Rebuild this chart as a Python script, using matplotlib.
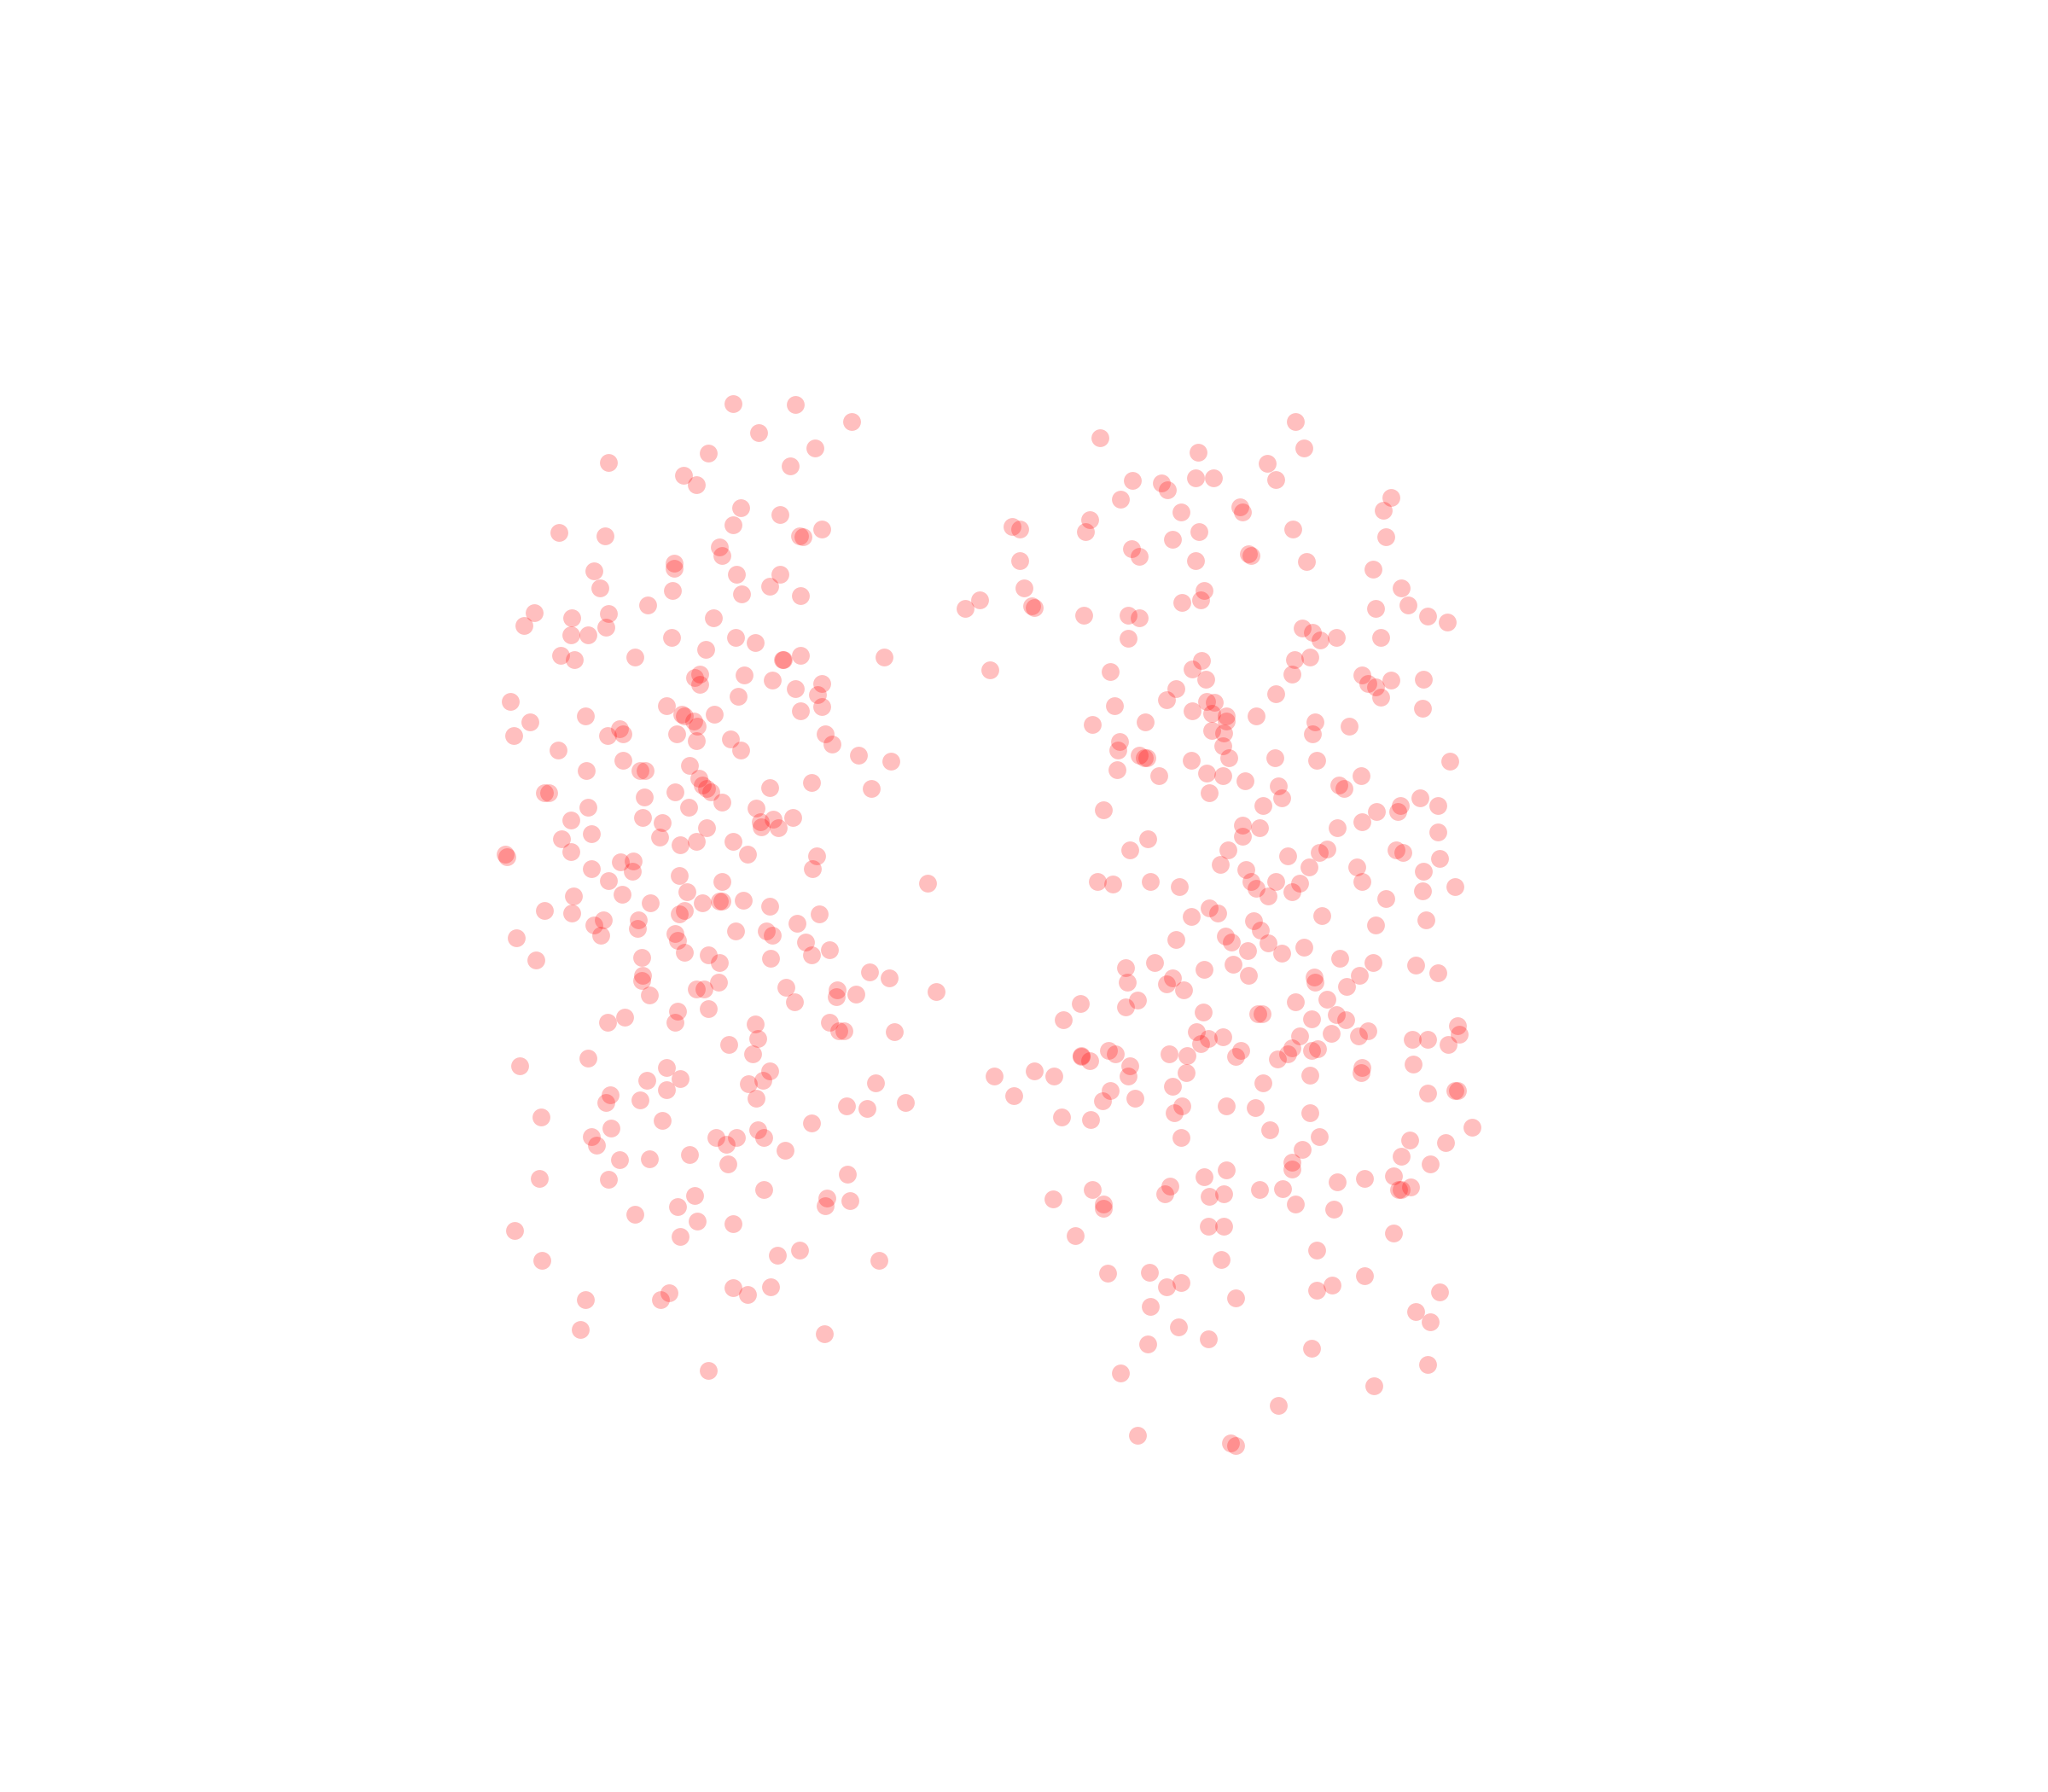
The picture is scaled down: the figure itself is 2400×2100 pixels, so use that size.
import matplotlib
matplotlib.use("Agg")
import matplotlib.pyplot as plt
import numpy as np

# points (x, y), y runs downwards
left_points = [
    (561,309),(609,310),(652,323),(581,331),(624,343),(542,347),(605,357),(466,354),(523,364),(533,371),
    (567,389),(597,394),(561,402),(629,405),(612,410),(615,411),(428,408),(463,410),(551,419),(553,425),
    (516,431),(516,435),(564,440),(597,440),(455,437),(459,450),(515,452),(589,449),(568,455),(613,456),
    (496,463),(409,469),(438,473),(466,470),(401,479),(464,480),(546,473),(437,486),(450,486),(514,488),
    (563,488),(578,492),(540,497),(429,502),(440,505),(486,503),(599,505),(600,505),(613,502),(677,503),
    (536,516),(532,519),(570,517),(536,524),(591,521),(629,523),(609,527),(626,532),(391,537),(565,533),
    (510,540),(629,541),(613,544),(522,547),(524,548),(547,547),(448,548),(406,553),(531,552),(534,556),
    (474,558),(465,563),(477,562),(393,563),(518,562),(533,567),(559,566),(632,562),(637,570),(427,574),
    (567,574),(657,578),(682,583),(477,582),(528,586),(449,590),(490,590),(494,590),(535,596),(538,601),
    (621,599),(589,603),(667,604),(517,606),(541,604),(544,606),(417,607),(420,607),(493,610),(553,614),
    (450,618),(527,618),(579,619),(492,626),(437,628),(507,630),(582,629),(592,627),(607,626),(583,633),
    (596,634),(541,634),(453,638),(505,641),(430,642),(533,644),(561,644),(521,647),(437,652),(572,654),
    (387,654),(388,656),(625,655),(475,660),(485,659),(622,665),(453,665),(484,667),(520,670),(466,674),
    (553,675),(710,676),(526,683),(476,685),(439,686),(498,691),(538,691),(551,690),(553,690),(569,689),
    (589,694),(417,697),(438,699),(520,700),(524,697),(627,700),(462,704),(489,704),(610,707),
    (455,708),(488,711),(563,713),(587,713),(591,716),(460,716),(395,718),(517,715),(519,720),(617,721),
    (635,727),(524,729),(621,731),(542,731),(410,735),(491,733),(590,734),(551,737),(666,744),(681,749),
    (492,747),(491,751),(550,752),(641,758),(717,759),(602,756),(533,757),(539,757),(655,761),(497,762),
    (640,763),(608,767),(542,772),(519,774),(478,779),(465,783),(517,783),(578,784),(635,783),(642,789),
    (646,789),(685,790),(580,795),(558,800),(576,807),(450,810),(398,816),(510,817),(589,820),(495,827),
    (521,826),(584,827),(573,830),(670,829),(510,834),(467,838),(464,844),(490,842),(579,841),(693,844),
    (648,847),(664,849),(414,855),(507,858),(621,860),(468,864),(580,865),(453,870),(548,871),(564,871),
    (585,871),(556,876),(457,877),(601,881),(528,884),(474,888),(497,887),(557,891),(413,902),(466,903),
    (649,899),(585,911),(532,915),(633,917),(651,919),(519,924),(632,923),(486,930),(534,935),(561,937),
    (394,942),(521,947),(612,957),(595,961),(415,965),(673,965),(561,986),(590,985),(572,991),(512,990),
    (506,995),(448,995),(444,1018),(631,1021),(542,1049),
]

right_points = [
    (992,323),(842,335),(998,343),(917,346),(970,355),(867,368),(915,366),(929,366),(889,370),(977,367),
    (894,375),(858,382),(1065,381),(949,388),(951,392),(1059,391),(904,392),(834,398),(775,403),(781,405),
    (831,407),(990,405),(918,407),(1061,411),(898,413),(866,420),(872,426),(956,424),(958,425),(781,429),
    (915,429),(1000,430),(1051,436),(784,450),(922,452),(1073,450),(919,459),(905,461),(750,459),(739,466),
    (790,464),(792,465),(1078,463),(1053,466),(830,471),(864,471),(872,473),(1093,472),(1108,476),(997,481),
    (1005,484),(1011,490),(1023,488),(864,489),(1057,488),(991,505),(1003,503),(920,506),(913,512),(758,513),
    (850,514),(989,516),(1043,517),(923,520),(1047,523),(1065,521),(1090,520),(1053,526),(900,527),(977,531),
    (1057,534),(893,536),(924,537),(930,538),(853,540),(913,544),(928,546),(939,548),(1089,542),(962,548),
    (939,552),(877,553),(836,555),(1007,553),(1033,556),(928,559),(937,561),(1005,562),(857,568),(936,571),
    (856,574),(872,578),(876,580),(878,580),(941,580),(912,582),(976,580),(1008,582),(1110,583),(855,589),
    (887,594),(924,592),(936,594),(1042,594),(953,598),(979,602),(1025,601),(1029,604),(926,607),(981,611),
    (1087,611),(1072,617),(1101,617),(845,620),(967,617),(1054,621),(1070,621),(1043,629),(951,632),(964,634),
    (1024,634),(1101,637),(951,640),(879,642),(940,651),(1016,650),(1069,651),(1074,653),(865,651),(986,655),
    (1010,653),(1102,657),(934,662),(1002,664),(954,666),(1039,664),(1090,667),(840,675),(852,677),(881,675),
    (903,679),(958,675),(962,680),(977,675),(995,676),(1043,675),(1089,682),(1114,679),(971,686),(989,683),
    (1061,688),(926,695),(932,699),(912,702),(1012,701),(960,705),(1092,704),(1053,708),(965,712),(938,717),
    (900,719),(943,721),(971,722),(998,725),(955,728),(981,730),(1026,734),(884,737),(1051,737),(862,741),
    (922,742),(944,738),(1084,739),(1101,745),(1041,747),(898,749),(956,747),(1006,748),(863,752),(893,753),
    (1007,752),(906,758),(1031,755),(871,766),(827,768),(862,771),(992,767),(1016,765),(921,775),(963,776),
    (966,776),(1023,777),(1004,780),(1030,781),(814,781),(1116,785),(1047,789),(916,790),(936,794),
    (925,795),(995,793),(1019,791),(1040,793),(1081,796),(1093,796),(1117,792),(1109,800),(919,799),(849,804),
    (950,804),(989,802),(1004,804),(1009,803),(828,808),(828,809),(854,807),(895,807),(909,808),(946,809),
    (986,807),(978,811),(834,812),(865,816),(792,820),(761,824),(807,824),(864,824),(908,821),(1003,823),
    (1043,817),(1042,821),(1082,815),(967,829),(898,832),(850,835),(1093,837),(1114,835),(1116,835),(776,839),
    (844,843),(869,841),(905,847),(939,847),(961,848),(1003,852),(899,852),(813,855),(835,857),(1127,863),
    (972,865),(904,871),(1010,870),(1079,873),(1107,875),(997,880),(1073,885),(989,890),(1095,891),(939,896),
    (989,895),(922,901),(1024,905),(1045,902),(1067,900),(896,908),(836,911),(964,911),(982,910),(1071,911),
    (1073,911),(1080,909),(892,914),(926,916),(937,914),(806,918),(992,922),(845,922),(845,925),(1021,926),
    (925,939),(937,939),(823,946),(1067,944),(1008,957),(935,964),(848,975),(880,974),(1045,977),(904,982),
    (893,985),(1020,984),(1008,988),(1102,989),(946,994),(881,1000),(1084,1004),(1095,1012),(902,1016),(925,1025),
    (879,1029),(1004,1032),(1093,1045),(858,1051),(1052,1061),(979,1076),(871,1099),(942,1105),(946,1107),
]


def main():
    fig = plt.figure(figsize=(24, 21), dpi=100)
    ax = fig.add_axes([0, 0, 1, 1])

    pts = np.array(left_points + right_points)
    ax.scatter(pts[:, 0], pts[:, 1], s=225, c="red", alpha=0.25, linewidths=0)

    ax.set_xlim(0, 1568)
    ax.set_ylim(1372, 0)
    ax.axis("off")
    fig.savefig("out.png", dpi=100, facecolor="white")


if __name__ == "__main__":
    main()
